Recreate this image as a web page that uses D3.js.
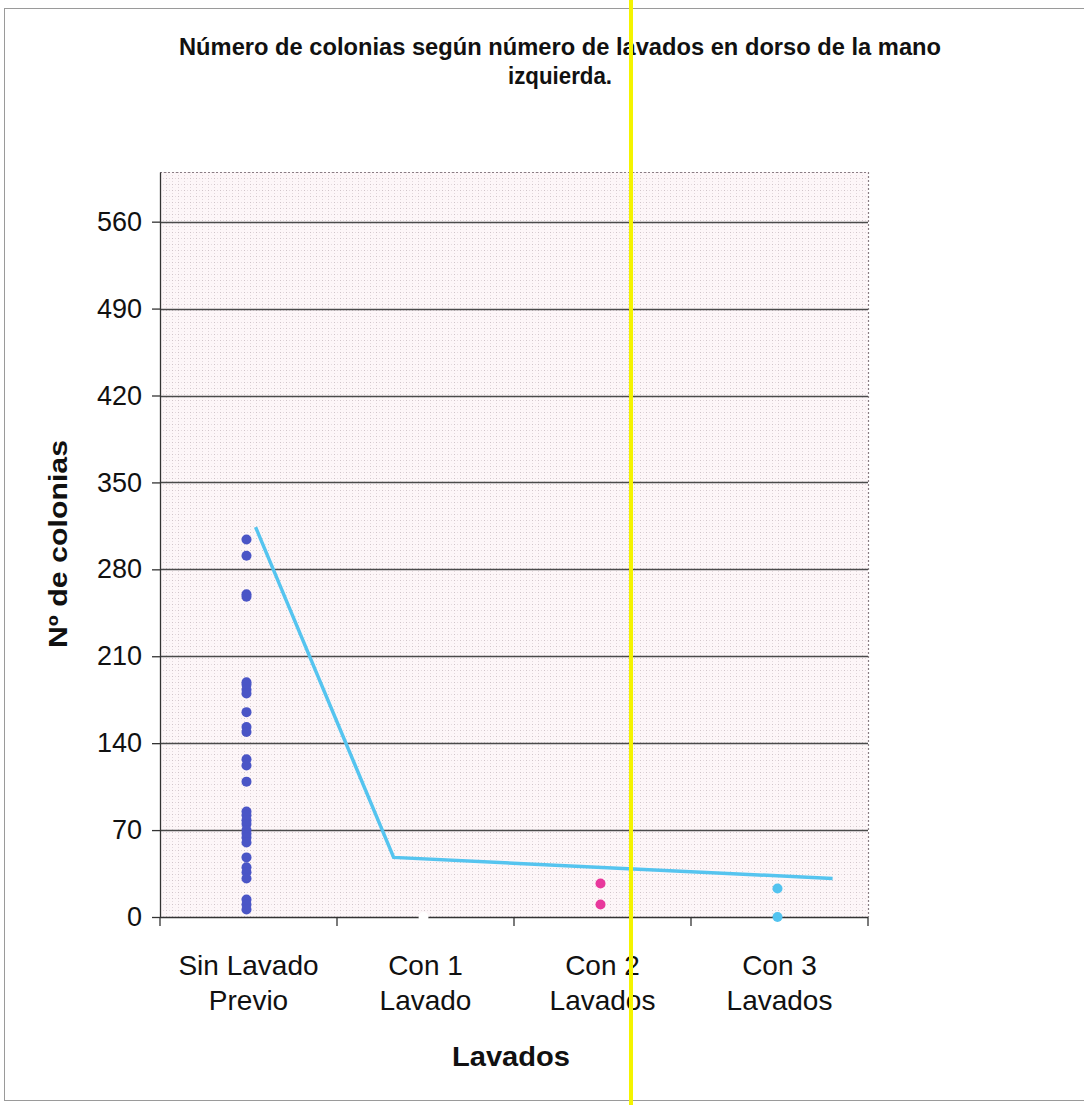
<!DOCTYPE html>
<html>
<head>
<meta charset="utf-8">
<script src="https://cdn.jsdelivr.net/npm/d3@7/dist/d3.min.js"></script>
<style>
  html, body { margin: 0; padding: 0; background: #ffffff; }
  svg { display: block; font-family: "Liberation Sans", Arial, sans-serif; }
</style>
</head>
<body>
<svg id="chart" width="1084" height="1105"></svg>
<script>
// Categories (x axis), drawn as two lines each
const categories = ["Sin Lavado Previo", "Con 1 Lavado", "Con 2 Lavados", "Con 3 Lavados"];
const categoryLines = [["Sin Lavado", "Previo"], ["Con 1", "Lavado"], ["Con 2", "Lavados"], ["Con 3", "Lavados"]];

// Colony counts per sample, by washing group
const sinLavado = [304, 291, 260, 258, 189, 187, 183, 180, 165, 153, 149, 127, 122, 109,
                   85, 82, 78, 75, 70, 67, 64, 60, 48, 40, 36, 31, 14, 10, 6];
const con1Lavado = [0];
const con2Lavados = [27, 10];
const con3Lavados = [23, 0];

// Trend line: position in category units (0..4) and value
const trendPos = [0.54, 1.32, 3.8];
const trendVal = [314, 48, 31];

const yTicks = [0, 70, 140, 210, 280, 350, 420, 490, 560];
const yMax = 600;

const series = [
  { cat: categories[0], values: sinLavado, color: "#4a55c6" },
  { cat: categories[1], values: con1Lavado, color: "#ffffff" },
  { cat: categories[2], values: con2Lavados, color: "#e8389c" },
  { cat: categories[3], values: con3Lavados, color: "#52c3ef" }
];

const svg = d3.select("#chart");
const W = 1084, H = 1105;
const plot = { left: 160, right: 868, top: 172, bottom: 917 };

// outer chart frame
svg.append("rect").attr("x", 4.5).attr("y", 8.5).attr("width", W + 10).attr("height", 1092)
  .attr("fill", "#ffffff").attr("stroke", "#9a9a9a").attr("stroke-width", 1);

const x = d3.scaleBand().domain(categories).range([plot.left, plot.right]).padding(0);
const xc = d3.scaleLinear().domain([0, 4]).range([plot.left, plot.right]);
const y = d3.scaleLinear().domain([0, yMax]).range([plot.bottom, plot.top]);

// plot area background with fine dotted minor grid
const defs = svg.append("defs");
const pat = defs.append("pattern").attr("id", "minor").attr("patternUnits", "userSpaceOnUse")
  .attr("width", 6).attr("height", 6).attr("x", plot.left).attr("y", plot.top);
pat.append("rect").attr("width", 6).attr("height", 6).attr("fill", "#fdf6f8");
pat.append("rect").attr("x", 0).attr("y", 0).attr("width", 1).attr("height", 1).attr("fill", "#cfc3c8");
pat.append("rect").attr("x", 3).attr("y", 0).attr("width", 1).attr("height", 1).attr("fill", "#e3d9dd");
pat.append("rect").attr("x", 0).attr("y", 3).attr("width", 1).attr("height", 1).attr("fill", "#e3d9dd");

svg.append("rect").attr("x", plot.left).attr("y", plot.top)
  .attr("width", plot.right - plot.left).attr("height", plot.bottom - plot.top)
  .attr("fill", "url(#minor)");

// dotted plot border (top/right)
svg.append("path")
  .attr("d", `M${plot.left},${plot.top + 0.5}H${plot.right + 0.5}V${plot.bottom}`)
  .attr("fill", "none").attr("stroke", "#8a7d84").attr("stroke-width", 1.2)
  .attr("stroke-dasharray", "2,2");

// major gridlines
svg.append("g").selectAll("line").data(yTicks.filter(d => d > 0)).join("line")
  .attr("x1", plot.left).attr("x2", plot.right)
  .attr("y1", d => Math.round(y(d)) + 0.5).attr("y2", d => Math.round(y(d)) + 0.5)
  .attr("stroke", "#4a4a4a").attr("stroke-width", 1.3);

// y axis
const yAxis = d3.axisLeft(y).tickValues(yTicks).tickSize(8).tickSizeOuter(0).tickPadding(10);
const gy = svg.append("g").attr("transform", `translate(${plot.left},0)`).call(yAxis);
gy.select(".domain").attr("stroke", "#333").attr("stroke-width", 1.3);
gy.selectAll(".tick line").attr("stroke", "#333").attr("stroke-width", 1.3);
gy.selectAll(".tick text").attr("font-size", 27).attr("fill", "#111")
  .attr("font-family", "Liberation Sans, Arial, sans-serif");

// x axis with ticks at category boundaries
const gx = svg.append("g").attr("transform", `translate(0,${plot.bottom})`);
gx.append("line").attr("x1", plot.left).attr("x2", plot.right).attr("y1", 0.5).attr("y2", 0.5)
  .attr("stroke", "#333").attr("stroke-width", 1.3);
gx.selectAll("line.tk").data(d3.range(0, 5)).join("line").attr("class", "tk")
  .attr("x1", d => xc(d)).attr("x2", d => xc(d)).attr("y1", 0).attr("y2", 9)
  .attr("stroke", "#333").attr("stroke-width", 1.3);
const lbl = gx.selectAll("text.cat").data(categories).join("text").attr("class", "cat")
  .attr("x", d => x(d) + x.bandwidth() / 2).attr("text-anchor", "middle")
  .attr("font-size", 28).attr("fill", "#111");
lbl.each(function(d, i) {
  const t = d3.select(this);
  categoryLines[i].forEach((s, j) => {
    t.append("tspan").attr("x", x(d) + x.bandwidth() / 2).attr("y", 58 + j * 35).text(s);
  });
});

// trend line
const line = d3.line().x(d => xc(d[0])).y(d => y(d[1]));
svg.append("path").datum(trendPos.map((p, i) => [p, trendVal[i]]))
  .attr("d", line).attr("fill", "none").attr("stroke", "#55c4ef").attr("stroke-width", 3.5);

// sample points
series.forEach(s => {
  svg.append("g").selectAll("circle").data(s.values).join("circle")
    .attr("cx", x(s.cat) + x.bandwidth() / 2 - 2)
    .attr("cy", d => y(d))
    .attr("r", 5)
    .attr("fill", s.color);
});

// titles
svg.append("text").attr("x", 560).attr("y", 55).attr("text-anchor", "middle")
  .attr("font-size", 23).attr("font-weight", "bold").attr("fill", "#111")
  .attr("textLength", 762).attr("lengthAdjust", "spacingAndGlyphs")
  .text("Número de colonias según número de lavados en dorso de la mano");
svg.append("text").attr("x", 560).attr("y", 84).attr("text-anchor", "middle")
  .attr("font-size", 23).attr("font-weight", "bold").attr("fill", "#111")
  .attr("textLength", 104).attr("lengthAdjust", "spacingAndGlyphs")
  .text("izquierda.");

svg.append("text").attr("transform", "translate(67,544) rotate(-90)").attr("text-anchor", "middle")
  .attr("font-size", 26).attr("font-weight", "bold").attr("fill", "#111")
  .attr("textLength", 208).attr("lengthAdjust", "spacingAndGlyphs")
  .text("Nº de colonias");

svg.append("text").attr("x", 511).attr("y", 1066).attr("text-anchor", "middle")
  .attr("font-size", 28).attr("font-weight", "bold").attr("fill", "#111")
  .attr("textLength", 118).attr("lengthAdjust", "spacingAndGlyphs")
  .text("Lavados");

// vertical yellow rule
svg.append("line").attr("x1", 631).attr("x2", 631).attr("y1", 0).attr("y2", H)
  .attr("stroke", "#f4f400").attr("stroke-width", 4);
</script>
</body>
</html>
